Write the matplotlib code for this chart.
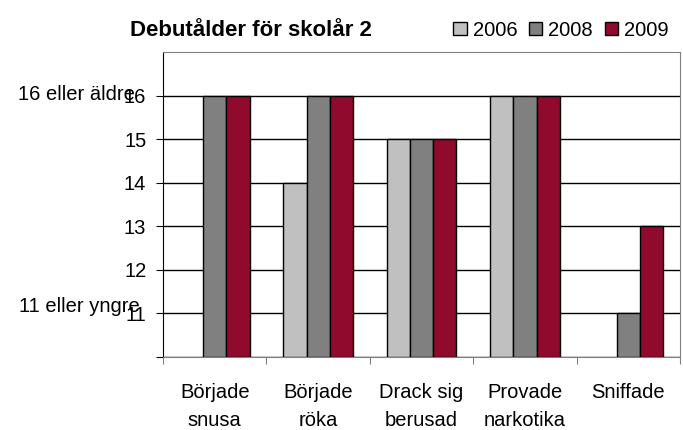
import matplotlib.pyplot as plt
import numpy as np
from matplotlib.patches import Patch

plt.rcParams['font.family'] = ['Liberation Sans', 'DejaVu Sans']

categories = ['Började\nsnusa', 'Började\nröka', 'Drack sig\nberusad', 'Provade\nnarkotika', 'Sniffade']
years = ['2006', '2008', '2009']
v2006 = [None, 14, 15, 16, None]
v2008 = [16, 16, 15, 16, 11]
v2009 = [16, 16, 15, 16, 13]
colors = ['#c0c0c0', '#808080', '#8f0a2c']
yticks = [10, 11, 12, 13, 14, 15, 16]
ylabels = ['', '11', '12', '13', '14', '15', '16']

fig = plt.figure(figsize=(6.83, 4.3), dpi=100)
ax = fig.add_axes([0.2387, 0.170, 0.757, 0.709])

x = np.arange(len(categories))
w = 0.225
base = 10
for i, vals in enumerate([v2006, v2008, v2009]):
    xs = [x[j] + (i - 1) * w for j, v in enumerate(vals) if v is not None]
    hs = [v - base for v in vals if v is not None]
    ax.bar(xs, hs, w, bottom=base, color=colors[i],
           edgecolor='black', linewidth=1, zorder=3)

ax.set_xlim(-0.5, len(categories) - 0.5)
ax.set_ylim(10, 17)
ax.set_yticks(yticks)
ax.set_yticklabels(ylabels, fontsize=14.5)
ax.yaxis.grid(True, color='black', linewidth=1, zorder=0)
ax.set_xticks(np.arange(len(categories) + 1) - 0.5)
ax.set_xticklabels([])
ax.set_xticks(x, minor=True)
ax.set_xticklabels(categories, minor=True, fontsize=14.5, linespacing=1.6)
ax.tick_params(axis='x', which='minor', length=0, pad=19)
ax.tick_params(axis='x', which='major', length=5, color='gray')
ax.tick_params(axis='y', length=5, pad=7)

ax.spines['left'].set_color('black')
ax.spines['bottom'].set_color('gray')
ax.spines['top'].set_color('gray')
ax.spines['right'].set_color('gray')

ax.annotate('16 eller äldre', xy=(0, 16), xycoords=('axes fraction', 'data'),
            xytext=(-20, 1), textcoords='offset points', ha='right', va='center',
            fontsize=14.5)
ax.annotate('11 eller yngre', xy=(0, 11), xycoords=('axes fraction', 'data'),
            xytext=(-17, 5), textcoords='offset points', ha='right', va='center',
            fontsize=14.5)

fig.text(0.19, 0.93, 'Debutålder för skolår 2', fontsize=16, fontweight='bold',
         va='center')

handles = [Patch(facecolor=c, edgecolor='black', linewidth=1) for c in colors]
fig.legend(handles, years, loc='center right', bbox_to_anchor=(1.0, 0.93), ncol=3,
           frameon=False, fontsize=14.5, handlelength=0.65, handleheight=0.65,
           handletextpad=0.3, columnspacing=0.6, borderpad=0.2)

fig.savefig('out.png', dpi=100)
